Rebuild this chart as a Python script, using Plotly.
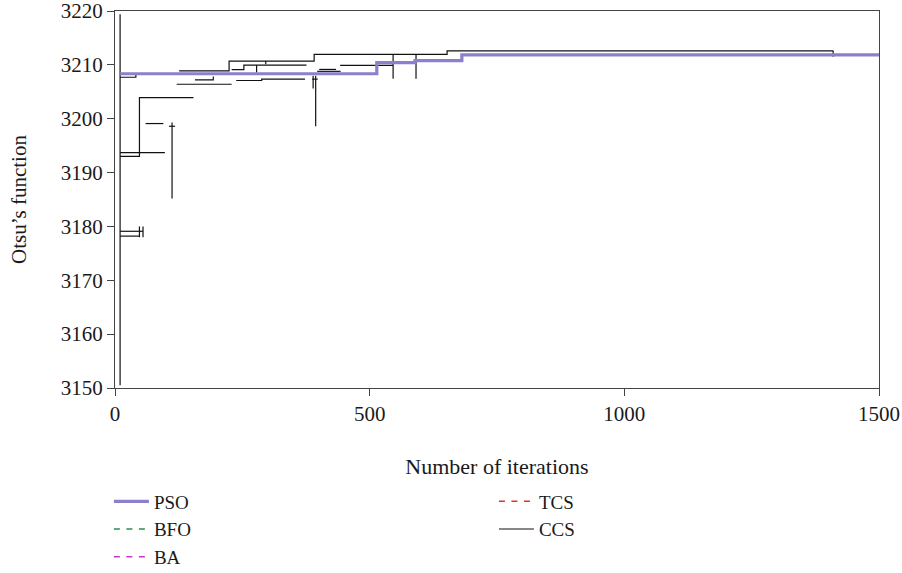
import plotly.graph_objects as go

# ---- data ----
pso_x = [10, 514, 514, 589, 589, 681, 681, 1500]
pso_y = [3208.35, 3208.35, 3210.4, 3210.4, 3210.8, 3210.8, 3211.85, 3211.85]

# BFO, BA and TCS run along the PSO curve (hidden beneath it in the reference)
bfo_x = [10, 514, 514, 589, 589, 681, 681, 1500]
bfo_y = [3208.35, 3208.35, 3210.4, 3210.4, 3210.8, 3210.8, 3211.85, 3211.85]
ba_x = [10, 514, 514, 589, 589, 681, 681, 1500]
ba_y = [3208.35, 3208.35, 3210.4, 3210.4, 3210.8, 3210.8, 3211.85, 3211.85]
tcs_x = [10, 514, 514, 589, 589, 681, 681, 1500]
tcs_y = [3208.35, 3208.35, 3210.4, 3210.4, 3210.8, 3210.8, 3211.85, 3211.85]

# CCS: several step segments (x iterations, y Otsu value)
ccs_segments = [
    [(10, 3219.4), (10, 3150.5)],
    [(10, 3207.7), (41, 3207.7), (41, 3208.2)],
    [(10, 3193.7), (98, 3193.7)],
    [(10, 3193.0), (48, 3193.0), (48, 3203.9), (154, 3203.9)],
    [(10, 3179.1), (55, 3179.1)],
    [(10, 3178.2), (48, 3178.2)],
    [(48, 3180.0), (48, 3178.0)],
    [(55, 3180.0), (55, 3178.0)],
    [(60, 3199.1), (95, 3199.1)],
    [(112, 3199.3), (112, 3185.2)],
    [(106, 3198.6), (118, 3198.6)],
    [(121, 3206.4), (229, 3206.4)],
    [(126, 3208.9), (224, 3208.9), (224, 3210.7), (391, 3210.7), (391, 3211.95), (652, 3211.95),
     (652, 3212.6), (1410, 3212.6)],
    [(1410, 3212.6), (1410, 3211.5)],
    [(296, 3210.7), (296, 3210.1)],
    [(229, 3209.1), (253, 3209.1), (253, 3209.95), (376, 3209.95)],
    [(278, 3209.95), (278, 3208.6)],
    [(157, 3207.2), (193, 3207.2), (193, 3207.85)],
    [(238, 3207.1), (288, 3207.1), (288, 3207.35), (373, 3207.35)],
    [(387, 3207.35), (398, 3207.35)],
    [(389, 3208.0), (389, 3205.6)],
    [(394, 3208.0), (394, 3198.6)],
    [(401, 3209.15), (434, 3209.15)],
    [(397, 3208.8), (443, 3208.8)],
    [(442, 3209.9), (546, 3209.9)],
    [(546, 3212.0), (546, 3207.4)],
    [(591, 3212.0), (591, 3207.4)],
]

x_ticks = [0, 500, 1000, 1500]
y_ticks = [3150, 3160, 3170, 3180, 3190, 3200, 3210, 3220]

ccs_x, ccs_y = [], []
for seg in ccs_segments:
    for px, py in seg:
        ccs_x.append(px)
        ccs_y.append(py)
    ccs_x.append(None)
    ccs_y.append(None)

FONT = "Liberation Serif"
TXT = "#1a1a1a"
DASH = "6px,6.5px"
fig = go.Figure()

fig.add_trace(go.Scatter(x=bfo_x, y=bfo_y, name="BFO", mode="lines",
                         line=dict(color="#2e8b57", width=1.5, dash=DASH),
                         legend="legend", legendrank=2))
fig.add_trace(go.Scatter(x=ba_x, y=ba_y, name="BA", mode="lines",
                         line=dict(color="#c23cc2", width=1.5, dash=DASH),
                         legend="legend", legendrank=3))
fig.add_trace(go.Scatter(x=tcs_x, y=tcs_y, name="TCS", mode="lines",
                         line=dict(color="#e0342c", width=1.5, dash=DASH),
                         legend="legend2", legendrank=4))
fig.add_trace(go.Scatter(x=ccs_x, y=ccs_y, name="CCS", mode="lines",
                         line=dict(color="#111111", width=1.2),
                         connectgaps=False,
                         legend="legend2", legendrank=5))
fig.add_trace(go.Scatter(x=pso_x, y=pso_y, name="PSO", mode="lines",
                         line=dict(color="#8a80cc", width=3.2),
                         legend="legend", legendrank=1))

axis_common = dict(
    showgrid=False, zeroline=False, showline=True, linecolor="#444444", linewidth=1.2,
    mirror=True, ticks="outside", ticklen=7, tickwidth=1, tickcolor="#444444",
    tickfont=dict(family=FONT, size=21, color=TXT), automargin=False,
    ticklabeloverflow="allow",
)

leg_common = dict(xanchor="left", yanchor="top", yref="container", y=0.158,
                  orientation="v", font=dict(family=FONT, size=19, color=TXT),
                  itemwidth=35, bgcolor="rgba(0,0,0,0)", tracegroupgap=0)

fig.update_layout(
    width=902, height=573,
    margin=dict(l=115, r=23, t=11, b=185),
    paper_bgcolor="white", plot_bgcolor="white",
    font=dict(family=FONT, size=21, color=TXT),
    xaxis=dict(range=[0, 1500], tickvals=x_ticks,
               title=dict(text="Number of iterations", font=dict(family=FONT, size=22, color=TXT), standoff=33),
               **axis_common),
    yaxis=dict(range=[3150, 3220], tickvals=y_ticks,
               title=dict(text="Otsu’s function", font=dict(family=FONT, size=21, color=TXT), standoff=28),
               **axis_common),
    legend=dict(x=-0.008, **leg_common),
    legend2=dict(x=0.496, **leg_common),
    showlegend=True,
)

fig.write_html("out.html")
